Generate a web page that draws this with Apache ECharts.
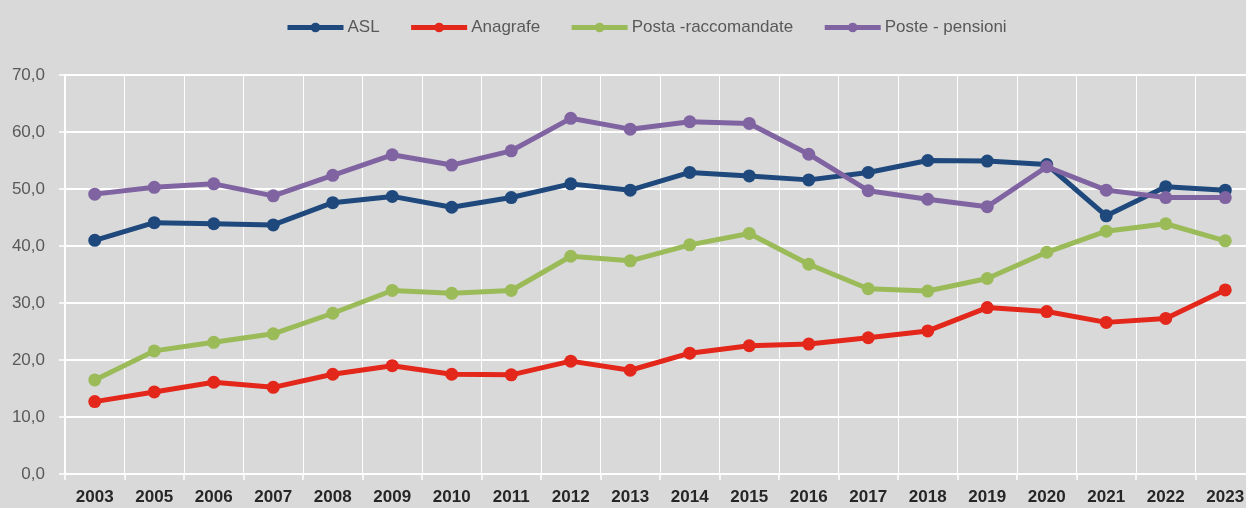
<!DOCTYPE html>
<html>
<head>
<meta charset="utf-8">
<script src="https://cdn.jsdelivr.net/npm/echarts@6/dist/echarts.min.js"></script>
<style>
html,body{margin:0;padding:0;background:#D9D9D9;}
#chart{width:1246px;height:508px;}
</style>
</head>
<body>
<div id="chart"></div>
<script>
const years = ['2003','2005','2006','2007','2008','2009','2010','2011','2012','2013','2014','2015','2016','2017','2018','2019','2020','2021','2022','2023'];
const asl = [41.0,44.1,43.9,43.7,47.6,48.7,46.8,48.5,50.9,49.8,52.9,52.3,51.6,52.9,55.0,54.9,54.3,45.3,50.4,49.8];
const anagrafe = [12.7,14.4,16.1,15.2,17.5,19.0,17.5,17.4,19.8,18.2,21.2,22.5,22.8,23.9,25.1,29.2,28.5,26.6,27.3,32.3];
const postaRacc = [16.5,21.6,23.1,24.6,28.2,32.2,31.7,32.2,38.2,37.4,40.2,42.2,36.8,32.5,32.1,34.3,38.9,42.6,43.9,40.9];
const postePens = [49.1,50.3,50.9,48.8,52.4,56.0,54.2,56.7,62.4,60.5,61.8,61.5,56.1,49.7,48.2,46.9,53.9,49.8,48.5,48.5];
const seriesNames = ['ASL','Anagrafe','Posta -raccomandate','Poste - pensioni'];
const colors = ['#1F497D','#E3271B','#9BBB59','#8064A2'];
const yTicks = {min:0,max:70,interval:10};

const FONT = "'Liberation Sans',Arial,sans-serif";
const chart = echarts.init(document.getElementById('chart'), null, {renderer:'canvas'});
const dataSets = [asl, anagrafe, postaRacc, postePens];
chart.setOption({
  backgroundColor:'#D9D9D9',
  animation:false,
  color: colors,
  legend:{
    left:280, top:14,
    itemWidth:56, itemHeight:12, itemGap:29,
    lineStyle:{width:5},
    textStyle:{fontFamily:FONT,fontSize:17,color:'#595959',padding:[0,0,0,-1]},
    data: seriesNames
  },
  grid:{left:65,width:1190,top:75,height:399,containLabel:false,outerBoundsMode:'none'},
  xAxis:{
    type:'category',
    data: years,
    boundaryGap:true,
    axisLine:{lineStyle:{color:'#FFFFFF',width:2}},
    axisTick:{show:true,alignWithLabel:false,length:6,lineStyle:{color:'#FFFFFF',width:1.5}},
    axisLabel:{fontFamily:FONT,fontSize:17,fontWeight:'bold',color:'#262626',margin:15,interval:0},
    splitLine:{show:true,lineStyle:{color:'#FFFFFF',width:1}}
  },
  yAxis:{
    type:'value',
    min:yTicks.min,max:yTicks.max,interval:yTicks.interval,
    axisLine:{show:true,lineStyle:{color:'#FFFFFF',width:2}},
    axisTick:{show:true,length:6,lineStyle:{color:'#FFFFFF',width:1.5}},
    axisLabel:{fontFamily:FONT,fontSize:17,color:'#595959',margin:20,
      formatter:v=>v.toFixed(1).replace('.',',')},
    splitLine:{show:true,lineStyle:{color:'#FFFFFF',width:2}}
  },
  series: seriesNames.map((n,i)=>({
    name:n,
    type:'line',
    data:dataSets[i],
    symbol:'circle',
    symbolSize:13,
    lineStyle:{width:5,color:colors[i]},
    itemStyle:{color:colors[i]},
    z:2+i
  }))
});
</script>
</body>
</html>
